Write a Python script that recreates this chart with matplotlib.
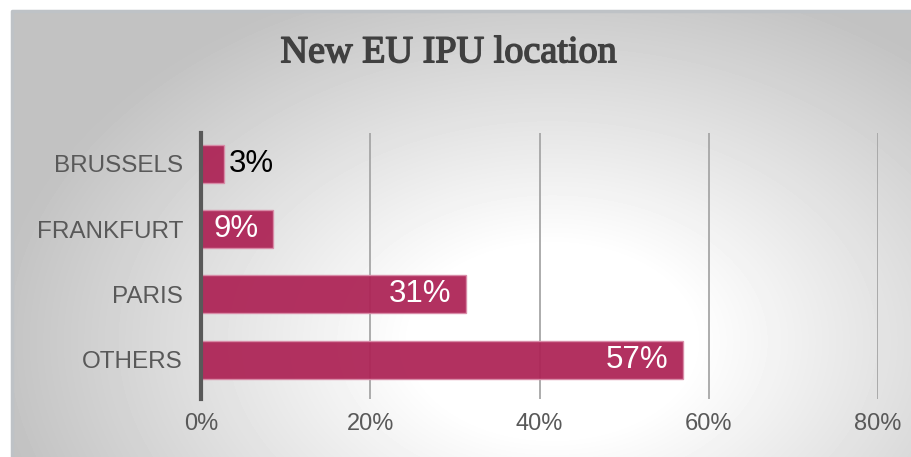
import matplotlib.pyplot as plt
import matplotlib.patheffects as pe
import numpy as np

# data (share of new EU IPU location)
cities = ["OTHERS", "PARIS", "FRANKFURT", "BRUSSELS"]
shares = [0.569, 0.313, 0.085, 0.027]
share_labels = ["57%", "31%", "9%", "3%"]
ticks = [0, 0.2, 0.4, 0.6, 0.8]
tick_labels = ["0%", "20%", "40%", "60%", "80%"]

W, H = 912, 457
fig = plt.figure(figsize=(W / 100, H / 100), dpi=100)
fig.patch.set_facecolor("white")

# radial grey-to-white backdrop of the chart panel
bg = fig.add_axes([12 / W, 0, (W - 12) / W, (H - 11) / H])
ny, nx = 446, 900
yy, xx = np.mgrid[0:ny, 0:nx]
r = np.sqrt(((xx - 540) / 560.0) ** 2 + ((yy - 330) / 380.0) ** 2)
t = np.clip((r - 0.25) / 0.75, 0, 1)
val = 1.0 - 0.24 * t
bg.imshow(val, cmap="gray", vmin=0, vmax=1, aspect="auto", extent=[0, 1, 0, 1], origin="upper")
bg.set_xlim(0, 1)
bg.set_ylim(0, 1)
bg.axis("off")
bg.plot([0, 0, 1], [0, 1, 1], color="#BEC2C6", lw=2.5, transform=bg.transAxes, clip_on=False)

fig.text(449 / W, 1 - 53 / H, "New EU IPU location", ha="center", va="center",
         fontsize=27.5, family="Liberation Serif", color="#404040",
         path_effects=[pe.withStroke(linewidth=1.1, foreground="#404040")])

ax = fig.add_axes([201 / W, 1 - 399 / H, (878 - 201) / W, (399 - 133) / H])
ax.set_facecolor("none")
y = np.arange(len(cities))
ax.barh(y, shares, height=0.58, color="#AD2456", alpha=0.94,
        edgecolor="#D98CA8", linewidth=1, zorder=2)
ax.set_xlim(0, 0.8)
ax.set_ylim(-0.6, 3.47)
ax.set_xticks(ticks)
ax.set_xticklabels(tick_labels)
ax.set_yticks(y)
ax.set_yticklabels(cities)
ax.grid(axis="x", color="#A6A6A6", lw=1.3, zorder=1)
ax.tick_params(axis="y", length=0, pad=13, labelsize=17.5, labelcolor="#595959")
ax.tick_params(axis="x", length=0, pad=10, labelsize=17, labelcolor="#595959")
for lab in ax.get_xticklabels() + ax.get_yticklabels():
    lab.set_family("Liberation Sans")
for s in ["top", "right", "bottom"]:
    ax.spines[s].set_visible(False)
ax.spines["left"].set_color("#595959")
ax.spines["left"].set_linewidth(3)
ax.spines["left"].set_zorder(3)

for i, (v, lab) in enumerate(zip(shares, share_labels)):
    if v < 0.05:
        ax.text(v + 0.006, i, lab, ha="left", va="center", fontsize=22.5,
                family="Liberation Sans", color="black", zorder=4)
    else:
        ax.text(v - 0.017, i, lab, ha="right", va="center", fontsize=22.5,
                family="Liberation Sans", color="white", zorder=4)

fig.savefig("out.png", dpi=100)
